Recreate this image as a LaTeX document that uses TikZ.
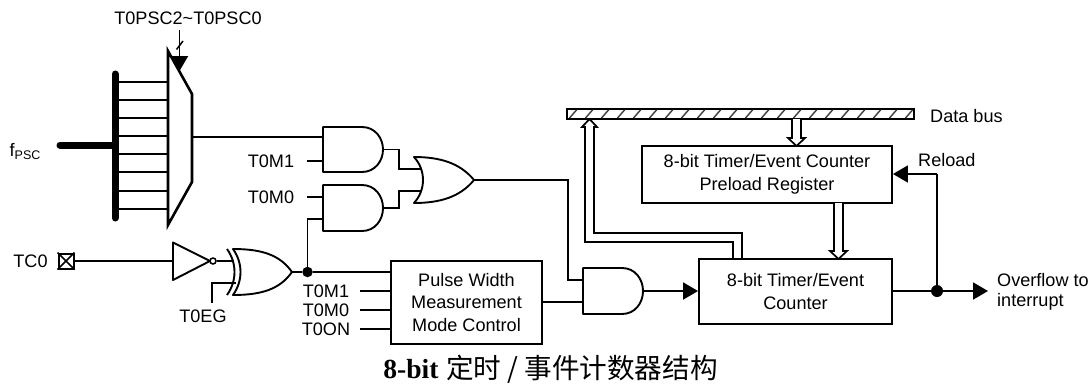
\documentclass[tikz,border=0pt]{standalone}
\usepackage{fontspec}
\setmainfont{Liberation Sans}
\newfontfamily\titlelatin{Liberation Serif}
\newfontfamily\cjk{Noto Sans CJK SC}
\usetikzlibrary{arrows.meta}
\tikzset{
  wire/.style={line width=1.9pt,line join=miter},
  gate/.style={line width=1.9pt,fill=white,line join=round},
  boxn/.style={draw,line width=1.9pt,inner sep=0pt,align=center,font=\fontsize{18.1}{22.5}\selectfont},
  lab/.style={inner sep=0pt,font=\fontsize{18.1}{21}\selectfont},
  dotn/.style={circle,fill=black,inner sep=0pt},
  arr/.style={wire,-{Triangle[length=15pt,width=17pt]}},
  hollow/.style={line width=1.7pt,line join=miter,fill=white}
}
\begin{document}
\begin{tikzpicture}[x=1pt,y=-1pt]
\useasboundingbox (0,0) rectangle (1091,383);
% bus and multiplexer
\coordinate (busT) at (115,74);
\coordinate (busB) at (115,218);
\coordinate (busIn) at (115,145);
\coordinate (fpscEnd) at (60,145);
\coordinate (muxOut) at (192,137);
\coordinate (selTop) at (179.5,30);
\coordinate (selTip) at (179.5,71);
\coordinate (slashA) at (176.5,49.5);
\coordinate (slashB) at (183,41);
\foreach \y in {81.7,100,118,136,154,172,190.7,209}
  \draw[wire] (115,\y) -- (168,\y);
\draw[line width=7pt,line cap=round] (busT) -- (busB);
\draw[line width=7pt,line cap=round] (fpscEnd) -- (busIn);
\draw[line width=2.6pt,fill=white,line join=miter] (168,51) -- (192,94) -- (192,182) -- (168,225) -- cycle;
\draw[arr] (selTop) -- (selTip);
\draw[line width=1.5pt] (slashA) -- (slashB);
\node[lab] (tpsc) at (188,18) {T0PSC2\char`\~T0PSC0};
\node[inner sep=0pt,anchor=base west] (fpsc) at (9.5,156) {\fontsize{18.1}{20}\selectfont f\raisebox{-3.5pt}{\fontsize{12.5}{14}\selectfont PSC}};
% TC0 pin and inverter
\node[lab] (tc0) at (30.5,261.5) {TC0};
\node[draw,line width=2pt,minimum size=15pt,inner sep=0pt] (pin) at (66,261) {};
\draw[line width=1.6pt] (pin.north west) -- (pin.south east) (pin.north east) -- (pin.south west);
\coordinate (invIn) at (173,261);
\draw[gate] (173,242.5) -- (210,261) -- (173,280) -- cycle;
\node[draw,circle,line width=1.5pt,fill=white,minimum size=6pt,inner sep=0pt] (bub) at (213,261) {};
\draw[wire] (pin) -- (invIn);
% XOR
\coordinate (xin1) at (234,261);
\coordinate (xin2) at (236,283);
\coordinate (xout) at (292,272);
\draw[wire] (bub) -- (xin1);
\node[lab] (t0eg) at (203,316) {T0EG};
\coordinate (egTop) at (212,283);
\coordinate (egBot) at (212,303);
\draw[wire] (egBot) -- (egTop) -- (xin2);
\draw[gate] (233,249) .. controls (262,249) and (280,255) .. (292,272) .. controls (280,289) and (262,295) .. (233,295) .. controls (243,281) and (243,263) .. (233,249) -- cycle;
\draw[wire,fill=none] (227,249) .. controls (237,263) and (237,281) .. (227,295);
% AND gates
\draw[gate] (323,127) -- (362,127) .. controls (375,127) and (383,138) .. (383,149.5) .. controls (383,161) and (375,172) .. (362,172) -- (323,172) -- cycle;
\draw[gate] (323,185) -- (362,185) .. controls (375,185) and (383,196) .. (383,208) .. controls (383,220) and (375,231) .. (362,231) -- (323,231) -- cycle;
\coordinate (a1i1) at (323,137);
\coordinate (a1i2) at (323,161);
\coordinate (a1o) at (383,149.5);
\coordinate (a2i1) at (323,197);
\coordinate (a2i2) at (323,219);
\coordinate (a2o) at (383,208);
% OR
\coordinate (oi1) at (421,169);
\coordinate (oi2) at (421,191);
\coordinate (oo) at (474,180);
\draw[wire] (a1o) -| (399,169) -- (oi1);
\draw[wire] (a2o) -| (399,191) -- (oi2);
\draw[gate] (414,157) .. controls (440,157) and (460,163) .. (474,180) .. controls (460,197) and (440,203) .. (414,203) .. controls (426,190) and (426,170) .. (414,157) -- cycle;
\draw[wire] (muxOut) -- (a1i1);
\coordinate (m1s) at (307,161);
\coordinate (m0s) at (307,197);
\draw[wire] (m1s) -- (a1i2);
\draw[wire] (m0s) -- (a2i1);
\node[lab] (lm1) at (271,161) {T0M1};
\node[lab] (lm0) at (271,197) {T0M0};
% Pulse width box
\node[boxn,minimum width=151pt,minimum height=83pt] (pw) at (466.5,302.5) {Pulse Width\\Measurement\\Mode Control};
\node[dotn,minimum size=10.5pt] (j1) at (307.5,272) {};
\draw[wire] (xout) -- (j1) -- (pw.west |- j1);
\draw[wire] (j1) |- (a2i2);
\foreach \y/\t/\n in {291/T0M1/pa,310/T0M0/pb,329/T0ON/pc}{
  \node[lab] (\n) at (326,\y) {\t};
  \coordinate (\n s) at (360,\y);
  \draw[wire] (\n s) -- (\n s -| pw.west);
}
% AND3
\draw[gate] (583,268) -- (622,268) .. controls (635,268) and (643,279) .. (643,291) .. controls (643,303) and (635,314) .. (622,314) -- (583,314) -- cycle;
\coordinate (a3i1) at (583,280);
\coordinate (a3i2) at (583,302);
\coordinate (a3o) at (643,291);
\draw[wire] (oo) -| (568,280) -- (a3i1);
\draw[wire] (pw.east |- a3i2) -- (a3i2);
% Counter and preload
\node[boxn,minimum width=193pt,minimum height=65pt] (cnt) at (795.5,291.5) {8-bit Timer/Event\hspace{7pt}\\Counter\hspace{7pt}};
\node[boxn,minimum width=250pt,minimum height=57pt] (pre) at (767,174.5) {8-bit Timer/Event Counter\hspace{12pt}\\Preload Register\hspace{12pt}};
\draw[arr] (a3o) -- (cnt.west |- a3o);
% data bus
\node[draw,line width=1.9pt,minimum width=347pt,minimum height=10pt,inner sep=0pt] (bus) at (740.5,114) {};
\foreach \x in {573,589,...,909}
  \draw[line width=1.4pt,black!75] (\x-3.5,118) -- (\x+3.5,110);
\node[lab,anchor=west] (dbus) at (930,116) {Data bus};
% hollow arrows
\draw[hollow] (792,119) -- (792,138) -- (788,138) -- (796.5,146) -- (805,138) -- (801,138) -- (801,119);
\draw[hollow] (834,203) -- (834,251) -- (830,251) -- (838.5,259) -- (847,251) -- (843,251) -- (843,203);
\coordinate (upL) at (585,242);
\coordinate (upR) at (594,233);
\coordinate (cntA) at (733,259);
\coordinate (cntB) at (742,259);
\draw[hollow,fill=none] (cntA) |- (upL) -- (585,127) -- (582,127) -- (589.5,119) -- (597,127) -- (594,127) -- (upR) -| (cntB);
% outputs
\node[dotn,minimum size=12pt] (j2) at (937,291) {};
\coordinate (ovf) at (988,291);
\draw[arr] (cnt.east |- j2) -- (ovf);
\coordinate (rl) at (937,174);
\draw[wire] (j2) -- (rl);
\draw[arr] (rl) -- (pre.east |- rl);
\node[lab,anchor=west] (reload) at (918,160) {Reload};
\node[lab,anchor=west] (ov1) at (997,280) {Overflow to};
\node[lab,anchor=west] (ov2) at (997,302) {interrupt};
% title
\node[inner sep=0pt] (title) at (550.5,369.5) {\fontsize{27.6}{30}\selectfont{\titlelatin\bfseries 8-bit} {\cjk 定时 / 事件计数器结构}};
\end{tikzpicture}
\end{document}
